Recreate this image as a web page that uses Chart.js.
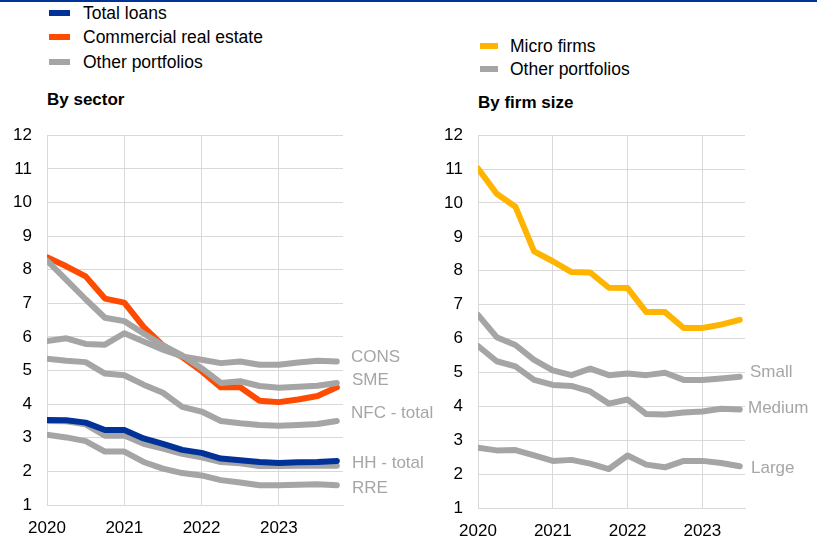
<!DOCTYPE html>
<html>
<head>
<meta charset="utf-8">
<script src="https://cdn.jsdelivr.net/npm/chart.js@4.4.1/dist/chart.umd.min.js"></script>
<style>
body { margin:0; width:817px; height:541px; background:#fff; position:relative; overflow:hidden; font-family:'Liberation Sans', Arial, sans-serif; }
#topline { position:absolute; left:0; top:0; width:817px; height:2px; background:#003299; }
.row { position:absolute; height:24px; line-height:24px; font-size:17.5px; color:#000; white-space:nowrap; }
.sw { position:absolute; top:9px; height:6px; }
.title { position:absolute; font-size:17px; font-weight:bold; line-height:20px; white-space:nowrap; }
canvas { position:absolute; }
</style>
</head>
<body>
<div id="topline"></div>

<div class="row" style="left:49px; top:1px; padding-left:34px;"><span class="sw" style="left:0; width:21px; background:#003299;"></span>Total loans</div>
<div class="row" style="left:49px; top:25px; padding-left:34px;"><span class="sw" style="left:0; width:21px; background:#ff4b00;"></span>Commercial real estate</div>
<div class="row" style="left:49px; top:50px; padding-left:34px;"><span class="sw" style="left:0; width:21px; background:#a5a5a5;"></span>Other portfolios</div>
<div class="title" style="left:47px; top:90px;">By sector</div>

<div class="row" style="left:480px; top:34px; padding-left:30px;"><span class="sw" style="left:0; width:18px; background:#ffb400;"></span>Micro firms</div>
<div class="row" style="left:480px; top:57px; padding-left:30px;"><span class="sw" style="left:0; width:18px; background:#a5a5a5;"></span>Other portfolios</div>
<div class="title" style="left:478px; top:93px;">By firm size</div>

<canvas id="sector" width="440" height="431" style="left:0; top:110px;"></canvas>
<canvas id="firmsize" width="377" height="431" style="left:440px; top:110px;"></canvas>

<script>
// quarterly observations, 2020 Q1 .. 2023 Q4
const quarters = [2020.0, 2020.25, 2020.5, 2020.75, 2021.0, 2021.25, 2021.5, 2021.75,
                  2022.0, 2022.25, 2022.5, 2022.75, 2023.0, 2023.25, 2023.5, 2023.75];

// By sector
const totalLoans = [3.53, 3.52, 3.45, 3.23, 3.23, 2.98, 2.82, 2.64, 2.55, 2.38, 2.33, 2.28, 2.25, 2.27, 2.28, 2.31];
const cre        = [8.37, 8.10, 7.80, 7.14, 7.02, 6.30, 5.75, 5.40, 4.98, 4.50, 4.50, 4.10, 4.06, 4.14, 4.24, 4.50];
const cons       = [5.88, 5.96, 5.79, 5.77, 6.11, 5.86, 5.62, 5.42, 5.32, 5.22, 5.27, 5.17, 5.17, 5.24, 5.29, 5.27];
const sme        = [8.27, 7.70, 7.12, 6.57, 6.47, 6.10, 5.75, 5.45, 5.07, 4.63, 4.68, 4.54, 4.49, 4.52, 4.55, 4.63];
const nfcTotal   = [5.35, 5.29, 5.25, 4.91, 4.86, 4.58, 4.34, 3.92, 3.78, 3.50, 3.43, 3.38, 3.36, 3.38, 3.41, 3.50];
const hhTotal    = [3.50, 3.49, 3.40, 3.06, 3.07, 2.82, 2.68, 2.52, 2.42, 2.28, 2.24, 2.16, 2.16, 2.17, 2.17, 2.17];
const rre        = [3.09, 3.01, 2.90, 2.59, 2.59, 2.28, 2.08, 1.95, 1.88, 1.74, 1.67, 1.59, 1.59, 1.60, 1.62, 1.59];

// By firm size (ends 2023 Q3)
const microFirms = [11.02, 10.27, 9.89, 8.57, 8.28, 7.96, 7.95, 7.50, 7.49, 6.78, 6.78, 6.31, 6.31, 6.41, 6.55];
const small      = [6.70, 6.04, 5.81, 5.37, 5.06, 4.92, 5.11, 4.92, 4.97, 4.92, 4.99, 4.78, 4.78, 4.82, 4.87];
const medium     = [5.78, 5.33, 5.18, 4.78, 4.63, 4.60, 4.44, 4.08, 4.20, 3.77, 3.76, 3.82, 3.85, 3.93, 3.91];
const large      = [2.78, 2.70, 2.71, 2.55, 2.39, 2.42, 2.31, 2.15, 2.55, 2.28, 2.20, 2.39, 2.39, 2.33, 2.23];

const sectorNames = ['CONS', 'SME', 'NFC - total', 'HH - total', 'RRE'];
const sizeNames = ['Small', 'Medium', 'Large'];

const BLUE = '#003299', ORANGE = '#ff4b00', YELLOW = '#ffb400', GREY = '#a5a5a5', GRID = '#d9d9d9';
const FONT = "'Liberation Sans', Arial, sans-serif";
Chart.defaults.font.family = FONT;

function line(values, color, order) {
    return {
        data: values.map((v, i) => ({ x: quarters[i], y: v })),
        borderColor: color,
        borderWidth: 6,
        pointRadius: 0,
        tension: 0,
        borderCapStyle: 'round',
        borderJoinStyle: 'round',
        fill: false,
        order: order
    };
}

// grey names written next to the end of the lines
const endLabels = {
    id: 'endLabels',
    afterDatasetsDraw(chart, args, opts) {
        const ctx = chart.ctx;
        const y = chart.scales.y;
        ctx.save();
        ctx.font = '17px ' + FONT;
        ctx.fillStyle = '#a6a6a6';
        ctx.textBaseline = 'middle';
        opts.texts.forEach((t, i) => {
            ctx.fillText(t, chart.chartArea.right + opts.dx[i], y.getPixelForValue(opts.at[i]));
        });
        ctx.restore();
    }
};

function options(xMax, pad, yWidth, xHeight, xPad, labels) {
    return {
        responsive: false,
        animation: false,
        layout: { padding: pad },
        plugins: {
            legend: { display: false },
            tooltip: { enabled: false },
            endLabels: labels
        },
        scales: {
            x: {
                type: 'linear',
                min: 2020,
                max: xMax,
                afterFit(s) { s.height = xHeight; },
                grid: { color: GRID, drawTicks: false },
                border: { color: GRID },
                ticks: { stepSize: 1, includeBounds: false, padding: xPad, color: '#000', font: { size: 17 },
                         callback: v => String(v) }
            },
            y: {
                min: 1,
                max: 12,
                afterFit(s) { s.width = yWidth; },
                grid: { color: GRID, drawTicks: false },
                border: { color: GRID },
                ticks: { stepSize: 1, padding: 15, color: '#000', font: { size: 17 } }
            }
        }
    };
}

new Chart(document.getElementById('sector'), {
    type: 'line',
    data: {
        datasets: [
            line(totalLoans, BLUE, 0),
            line(cons, GREY, 1),
            line(sme, GREY, 1),
            line(nfcTotal, GREY, 1),
            line(hhTotal, GREY, 1),
            line(rre, GREY, 1),
            line(cre, ORANGE, 2)
        ]
    },
    options: options(2023.83, { top: 22, right: 97, bottom: 0, left: 0 }, 47, 36, 13,
        { texts: sectorNames, at: [5.38, 4.7, 3.74, 2.24, 1.5], dx: [8, 9, 8, 9, 9] }),
    plugins: [endLabels]
});

new Chart(document.getElementById('firmsize'), {
    type: 'line',
    data: {
        datasets: [
            line(microFirms, YELLOW, 0),
            line(small, GREY, 1),
            line(medium, GREY, 1),
            line(large, GREY, 1)
        ]
    },
    options: options(2023.57, { top: 16, right: 72, bottom: 0, left: 0 }, 38, 33, 13,
        { texts: sizeNames, at: [5.0, 3.94, 2.16], dx: [5, 3, 6] }),
    plugins: [endLabels]
});
</script>
</body>
</html>
